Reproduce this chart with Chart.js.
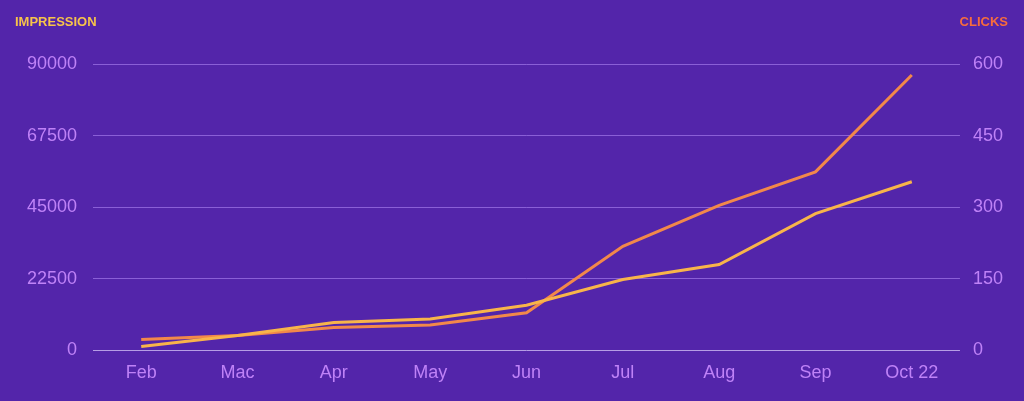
<!DOCTYPE html>
<html>
<head>
<meta charset="utf-8">
<script src="https://cdn.jsdelivr.net/npm/chart.js@4"></script>
<style>
  html, body { margin: 0; padding: 0; background: #5325aa; }
  #wrap { position: relative; width: 1024px; height: 401px; }
  .axis-title { position: absolute; top: 14px; font: bold 13px 'Liberation Sans', Arial, sans-serif; }
  #t-left { left: 15px; color: #f7c34a; }
  #t-right { right: 16px; color: #f76c3c; }
</style>
</head>
<body>
<div id="wrap">
  <canvas id="chart" width="1024" height="401"></canvas>
  <div class="axis-title" id="t-left">IMPRESSION</div>
  <div class="axis-title" id="t-right">CLICKS</div>
</div>
<script>
const months = ['Feb', 'Mac', 'Apr', 'May', 'Jun', 'Jul', 'Aug', 'Sep', 'Oct 22'];
const impressions = [1200, 4700, 8800, 9850, 14200, 22300, 27000, 43000, 53000];
const clicks = [23, 31, 48, 53, 79, 218, 304, 374, 577];

const TICK_COLOR = '#bf82f7';
const GRID_COLOR = 'rgba(175,135,245,0.6)';
const FONT = { family: "'Liberation Sans', Arial, sans-serif", size: 18 };

new Chart(document.getElementById('chart'), {
  type: 'line',
  data: {
    labels: months,
    datasets: [
      {
        label: 'Impression',
        data: impressions,
        yAxisID: 'y',
        borderColor: '#f8b44a',
        borderWidth: 3,
        pointRadius: 0,
        tension: 0,
      },
      {
        label: 'Clicks',
        data: clicks,
        yAxisID: 'y1',
        borderColor: '#f2884a',
        borderWidth: 3,
        pointRadius: 0,
        tension: 0,
      }
    ]
  },
  options: {
    responsive: false,
    animation: false,
    layout: { padding: { top: 64, left: 11, right: 8, bottom: 13 } },
    plugins: { legend: { display: false }, tooltip: { enabled: false } },
    scales: {
      x: {
        offset: true,
        grid: { display: false },
        border: { display: false },
        ticks: { color: TICK_COLOR, font: FONT, padding: 4 }
      },
      y: {
        position: 'left',
        min: 0, max: 90000,
        ticks: { stepSize: 22500, color: TICK_COLOR, font: FONT, padding: 16, callback: v => String(v) },
        grid: {
          drawTicks: false,
          color: ctx => ctx.tick.value === 0 ? 'rgba(200,180,240,0.85)' : GRID_COLOR,
          lineWidth: 1
        },
        border: { display: false }
      },
      y1: {
        position: 'right',
        min: 0, max: 600,
        ticks: { stepSize: 150, color: TICK_COLOR, font: FONT, padding: 13, callback: v => String(v) },
        grid: { display: false, drawTicks: false },
        border: { display: false }
      }
    }
  }
});
</script>
</body>
</html>
